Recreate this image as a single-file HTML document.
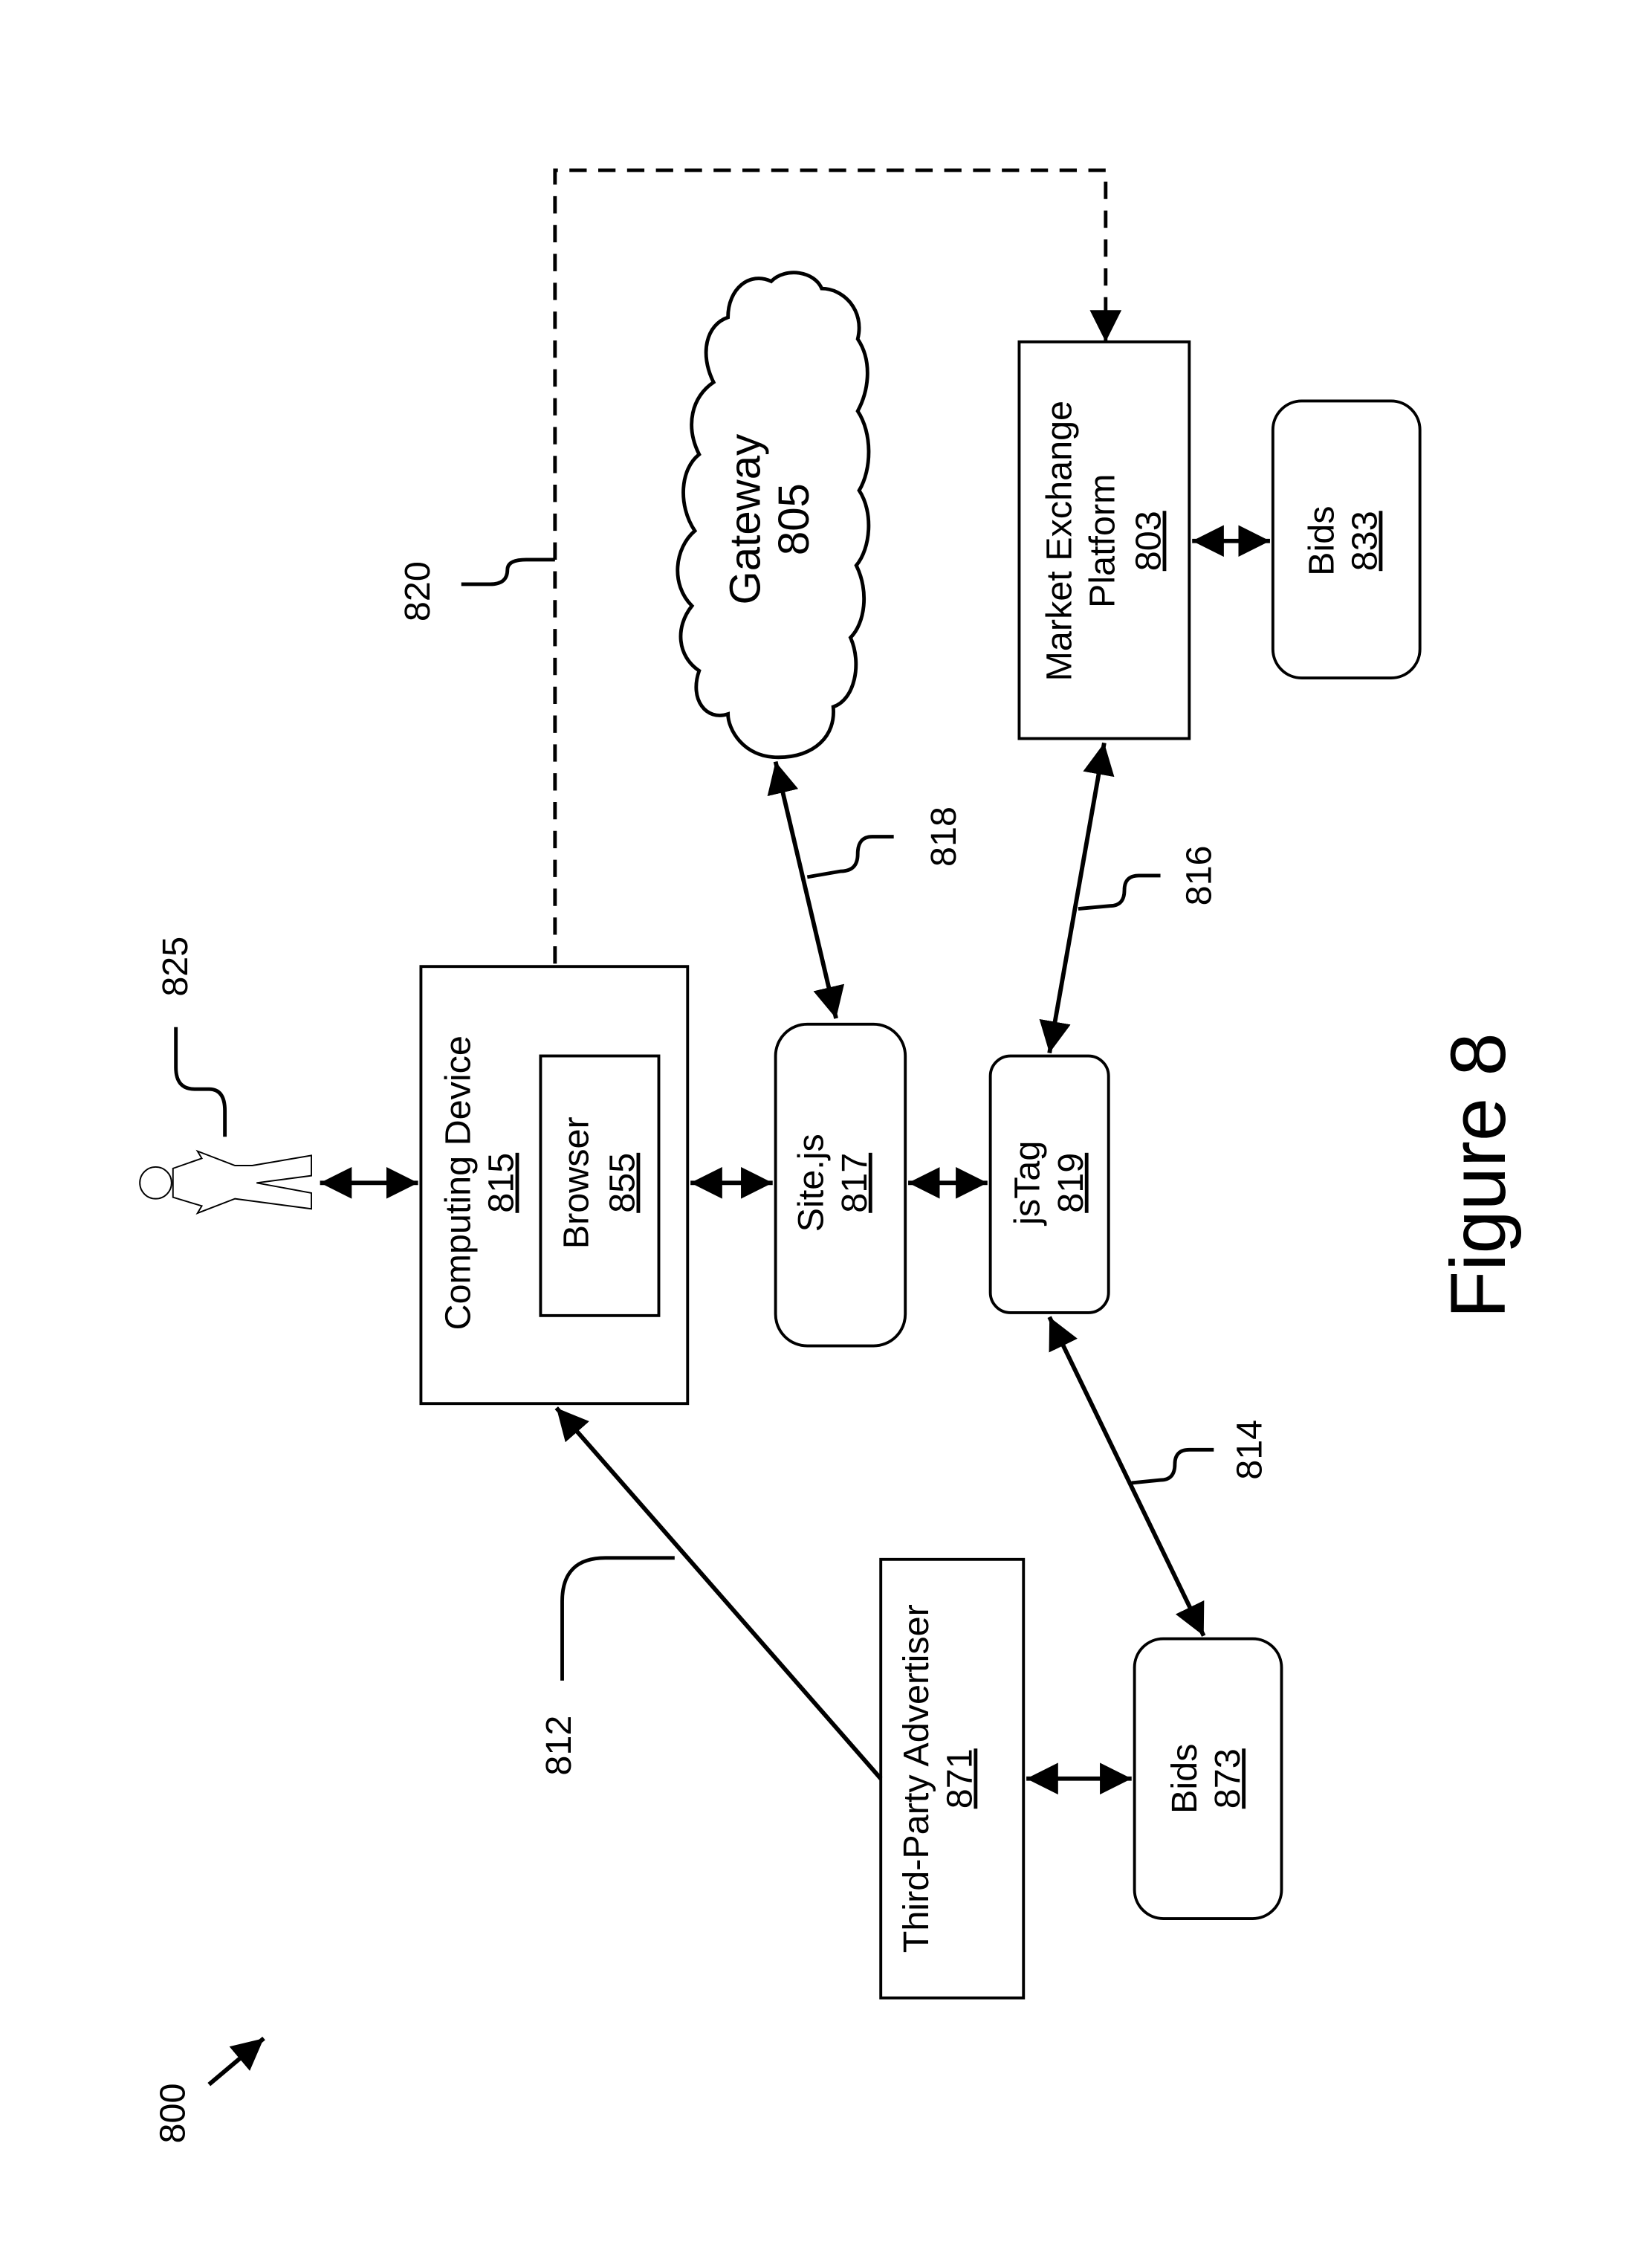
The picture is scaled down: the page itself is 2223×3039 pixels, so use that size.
<!DOCTYPE html>
<html><head><meta charset="utf-8"><style>html,body{margin:0;padding:0;background:#fff}svg{display:block}</style></head>
<body>
<svg width="2223" height="3039" viewBox="0 0 1146 1566" preserveAspectRatio="none" xmlns="http://www.w3.org/2000/svg" font-family="Liberation Sans, Arial, sans-serif">
<defs>
<marker id="b" viewBox="0 0 22 22" refX="22" refY="11" markerWidth="22" markerHeight="22" orient="auto-start-reverse" markerUnits="userSpaceOnUse">
<path d="M0,0 L22,11 L0,22 z" fill="#000"/>
</marker>
</defs>
<g fill="none" stroke="#000" stroke-width="2">
<rect x="292" y="670" width="185" height="303"/>
<rect x="375" y="732" width="82" height="180"/>
<rect x="538" y="710" width="90" height="223" rx="22"/>
<rect x="687" y="732" width="82" height="178" rx="14"/>
<rect x="707" y="237" width="118" height="275"/>
<rect x="883" y="278" width="102" height="192" rx="20"/>
<rect x="611" y="1081" width="99" height="304"/>
<rect x="787" y="1136" width="102" height="194" rx="20"/>
<path d="M540,525 C515,525 505,505 505,495 C490,500 478,485 485,465 C470,455 468,435 480,420 C465,405 468,380 482,368 C470,350 472,325 485,315 C475,295 480,275 495,265 C485,245 490,225 505,220 C505,200 520,188 535,195 C545,185 565,188 570,200 C585,200 600,215 595,235 C605,250 603,270 595,285 C605,300 605,325 596,340 C606,355 604,380 594,392 C603,410 600,432 590,442 C598,460 593,485 578,490 C580,510 565,525 540,525 Z" stroke-width="2.5"/>
<g stroke-width="3">
<line x1="222" y1="820" x2="290" y2="820" marker-start="url(#b)" marker-end="url(#b)"/>
<line x1="479" y1="820" x2="536" y2="820" marker-start="url(#b)" marker-end="url(#b)"/>
<line x1="630" y1="820" x2="685" y2="820" marker-start="url(#b)" marker-end="url(#b)"/>
<line x1="827" y1="375" x2="881" y2="375" marker-start="url(#b)" marker-end="url(#b)"/>
<line x1="712" y1="1233" x2="785" y2="1233" marker-start="url(#b)" marker-end="url(#b)"/>
<line x1="580" y1="706" x2="538" y2="528" marker-start="url(#b)" marker-end="url(#b)"/>
<line x1="728" y1="730" x2="766" y2="515" marker-start="url(#b)" marker-end="url(#b)"/>
<line x1="728" y1="913" x2="835" y2="1134" marker-start="url(#b)" marker-end="url(#b)"/>
<line x1="611" y1="1233" x2="386" y2="976" marker-end="url(#b)"/>
<line x1="145" y1="1445" x2="183" y2="1413" marker-end="url(#b)"/>
</g>
<path d="M385,668 L385,118 L767,118 L767,222" stroke-dasharray="12,8" stroke-width="2.5"/>
<path d="M767,220 L767,237" stroke-width="2.5" marker-end="url(#b)"/>
<g stroke-width="2.5">
<path d="M122,712 L122,740 Q122,755 135,755 L145,755 Q156,755 156,770 L156,788"/>
<path d="M320,405 L340,405 Q352,405 352,395 Q352,388 365,388 L385,388"/>
<path d="M620,580 L605,580 Q595,580 595,592 Q595,604 583,604 L560,608"/>
<path d="M805,607 L790,607 Q780,607 780,617 Q780,628 770,628 L748,630"/>
<path d="M842,1005 L825,1005 Q815,1005 815,1015 Q815,1026 805,1026 L785,1028"/>
<path d="M390,1165 L390,1110 Q390,1080 420,1080 L468,1080"/>
</g>
<g stroke-width="1">
<circle cx="108" cy="820" r="11"/>
<path d="M120,810 L140,803 L137,798 L163,808 L175,808 L216,801 L216,815 L178,820 L216,827 L216,838 L163,831 L137,841 L140,836 L120,830 Z"/>
</g>
</g>
<g font-size="25" text-anchor="middle" fill="#000">
<g transform="translate(318,820) rotate(-90)"><text y="8">Computing Device</text></g>
<g transform="translate(348,820) rotate(-90)"><text y="8" text-decoration="underline">815</text></g>
<g transform="translate(400,820) rotate(-90)"><text y="8">Browser</text></g>
<g transform="translate(432,820) rotate(-90)"><text y="8" text-decoration="underline">855</text></g>
<g transform="translate(563,820) rotate(-90)"><text y="8">Site.js</text></g>
<g transform="translate(593,820) rotate(-90)"><text y="8" text-decoration="underline">817</text></g>
<g transform="translate(713,820) rotate(-90)"><text y="8">jsTag</text></g>
<g transform="translate(743,820) rotate(-90)"><text y="8" text-decoration="underline">819</text></g>
<g transform="translate(735,375) rotate(-90)"><text y="8">Market Exchange</text></g>
<g transform="translate(765,375) rotate(-90)"><text y="8">Platform</text></g>
<g transform="translate(797,375) rotate(-90)"><text y="8" text-decoration="underline">803</text></g>
<g transform="translate(917,375) rotate(-90)"><text y="8">Bids</text></g>
<g transform="translate(947,375) rotate(-90)"><text y="8" text-decoration="underline">833</text></g>
<g transform="translate(636,1233) rotate(-90)"><text y="8">Third-Party Advertiser</text></g>
<g transform="translate(666,1233) rotate(-90)"><text y="8" text-decoration="underline">871</text></g>
<g transform="translate(822,1233) rotate(-90)"><text y="8">Bids</text></g>
<g transform="translate(852,1233) rotate(-90)"><text y="8" text-decoration="underline">873</text></g>
<g transform="translate(517,360) rotate(-90)"><text y="10" font-size="30">Gateway</text></g>
<g transform="translate(551,360) rotate(-90)"><text y="10" font-size="30">805</text></g>
<g transform="translate(290,410) rotate(-90)"><text y="8">820</text></g>
<g transform="translate(655,580) rotate(-90)"><text y="8">818</text></g>
<g transform="translate(832,607) rotate(-90)"><text y="8">816</text></g>
<g transform="translate(867,1005) rotate(-90)"><text y="8">814</text></g>
<g transform="translate(388,1210) rotate(-90)"><text y="8">812</text></g>
<g transform="translate(122,670) rotate(-90)"><text y="8">825</text></g>
<g transform="translate(120,1465) rotate(-90)"><text y="8">800</text></g>
<g transform="translate(1025,815) rotate(-90)"><text y="19" font-size="54">Figure 8</text></g>
</g>
</svg>
</body></html>
